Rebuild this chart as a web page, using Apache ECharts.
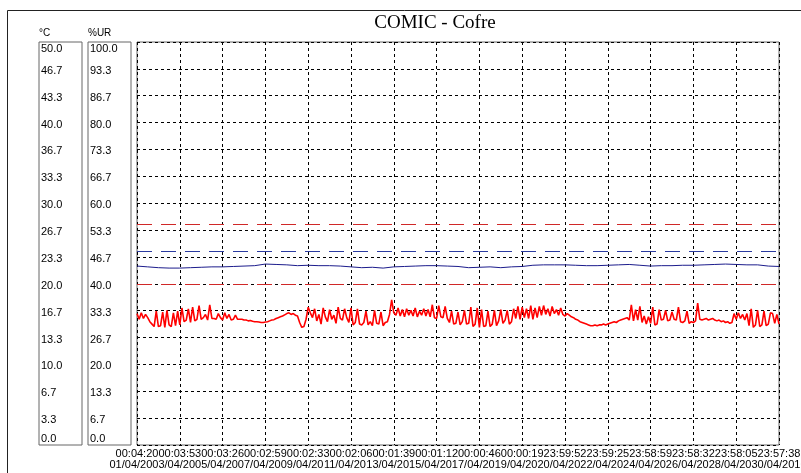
<!DOCTYPE html>
<html>
<head>
<meta charset="utf-8">
<script src="https://cdn.jsdelivr.net/npm/echarts@6/dist/echarts.min.js"></script>
<style>
    html, body { margin: 0; padding: 0; background: #fff; }
    #chart { width: 801px; height: 473px; }
</style>
</head>
<body>
<div id="chart"></div>
<script>
// x axis labels (hour + date of each division)
const timeLabels = ['00:04:20', '00:03:53', '00:03:26', '00:02:59', '00:02:33', '00:02:06', '00:01:39', '00:01:12',
    '00:00:46', '00:00:19', '23:59:52', '23:59:25', '23:58:59', '23:58:32', '23:58:05', '23:57:38']
const dateLabels = ['01/04/2010', '03/04/2010', '05/04/2010', '07/04/2010', '09/04/2010', '11/04/2010', '13/04/2010', '15/04/2010',
    '17/04/2010', '19/04/2010', '20/04/2010', '22/04/2010', '24/04/2010', '26/04/2010', '28/04/2010', '30/04/2010']

// y axis tick labels
const tempTicks = ['0.0', '3.3', '6.7', '10.0', '13.3', '16.7', '20.0', '23.3', '26.7', '30.0', '33.3', '36.7', '40.0', '43.3', '46.7', '50.0']
const humTicks = ['0.0', '6.7', '13.3', '20.0', '26.7', '33.3', '40.0', '46.7', '53.3', '60.0', '66.7', '73.3', '80.0', '86.7', '93.3', '100.0']

// temperature (°C) samples over the month
const tempValues = [
    16.3, 15.6, 16.4, 15.7, 16.2,
    15.8, 15.3, 15.0, 14.7,
    16.6, 14.7, 14.8, 16.5, 14.6, 16.7, 14.9, 14.7, 16.4, 14.8, 16.6, 14.9,
    17.0, 15.3, 15.5, 16.9, 15.2, 17.1, 15.4, 15.6,
    17.3, 15.6, 15.8, 16.2, 15.5, 17.4, 15.7,
    15.7, 15.6, 16.3, 15.8, 15.5, 16.4, 15.7,
    16.2, 15.5, 15.6, 16.1, 15.6,
    15.6, 15.6, 15.5, 15.5, 15.4, 15.45, 15.35, 15.3, 15.3, 15.25, 15.2, 15.2,
    15.25, 15.3, 15.4, 15.5, 15.55, 15.7, 15.8, 15.9, 16.0, 16.15, 16.3,
    16.4, 16.2, 16.3, 16.1, 16.0,
    15.2, 14.6, 14.7,
    15.6, 17.1, 16.4,
    15.8, 16.9, 15.4, 16.2, 15.0, 17.0, 15.9, 15.3, 16.8, 15.6, 16.1, 15.1, 17.1, 15.7, 15.5, 16.9, 15.8, 15.2,
    17.0, 14.9, 15.2, 16.9, 15.0, 14.9,
    15.2, 16.6, 14.9, 15.3, 14.8, 16.7, 15.1, 15.0, 16.5, 14.8, 15.2, 15.3,
    16.2, 18.0, 16.4, 16.1,
    17.0, 16.0, 16.8, 15.9, 16.9, 16.1, 16.7, 16.0, 17.0, 15.9, 16.6, 16.1, 16.9, 16.0, 16.8, 15.9,
    17.4, 15.8, 15.7, 17.3, 15.9, 15.8, 17.2, 15.7,
    15.2, 16.6, 15.0, 15.1, 16.5, 14.9, 15.3, 16.7, 15.0, 15.1,
    17.1, 14.7, 15.0, 17.0, 14.6,
    16.8, 14.7, 14.8, 16.6, 14.7, 15.0, 16.7, 14.8,
    15.4, 16.8, 15.1, 15.5, 16.7, 15.0, 15.3, 16.9,
    15.7, 17.2, 15.6, 17.1, 15.8, 16.9, 15.7, 17.3, 15.6, 17.0, 15.8, 17.2,
    16.1, 17.3, 16.2, 16.9, 16.0, 17.2, 16.3, 16.8, 16.1, 17.0,
    16.2, 16.0, 16.3, 16.1,
    15.9, 15.8, 15.6, 15.5, 15.3, 15.2, 15.1, 15.0,
    14.9, 14.8, 14.8, 14.9, 14.8, 14.9, 14.9, 15.0, 14.9,
    15.0, 15.1, 15.2, 15.3, 15.2, 15.4, 15.5, 15.6, 15.7, 15.8,
    15.5, 17.4, 15.4, 16.8, 15.5, 17.2,
    15.2, 16.0, 15.0, 15.9, 15.1,
    17.1, 14.9, 15.0, 16.8,
    15.5, 15.6, 16.7, 15.4, 15.5, 16.5, 15.6, 15.5,
    17.1, 15.3, 15.2, 15.4, 16.6, 15.1, 15.3, 15.2,
    15.4, 17.6, 15.6, 15.5,
    15.6, 15.7, 15.5, 15.6, 15.7, 15.5, 15.4, 15.5, 15.3, 15.4, 15.2, 15.3, 15.1, 15.2,
    16.3, 15.6, 16.4, 15.7, 16.2, 15.5, 16.3,
    14.8, 16.9, 14.6, 14.9, 16.7, 14.7,
    14.9, 16.6, 14.8, 15.0, 16.4, 16.3, 15.1, 16.2, 15.0
]

// relative humidity (%UR) samples over the month
const humValues = [
    44.4, 44.2, 44.0, 43.9, 43.9, 44.0, 44.1, 44.2, 44.2, 44.3,
    44.4, 44.5, 44.9, 44.8, 44.7, 44.5, 44.6, 44.5, 44.5, 44.4,
    44.2, 44.0, 44.1, 43.9, 44.2, 44.3, 44.4, 44.5, 44.5, 44.4,
    44.3, 44.0, 44.1, 44.2, 44.0, 44.2, 44.3, 44.6, 44.7, 44.7,
    44.7, 44.6, 44.5, 44.5, 44.6, 44.7, 44.8, 44.6, 44.4, 44.5,
    44.5, 44.6, 44.6, 44.7, 44.8, 44.9, 44.8, 44.7, 44.7, 44.4, 44.3
]

// alarm limits
const tempLimits = [27.4, 20.0]
const humLimits = [48.0]

const font = 'Liberation Sans, Arial, sans-serif'

// spread samples over the 15 divisions of the time axis
function toPoints(values) {
    let pts = []
    for (let i = 0; i < values.length; i++) {
        pts.push([i * 15 / (values.length - 1), values[i]])
    }
    return pts
}

function tickRich(list) {
    return function (value, index) {
        let txt = list[index]
        if (index === 0) return '{bot|' + txt + '}'
        if (index === list.length - 1) return '{top|' + txt + '}'
        return '{n|' + txt + '}'
    }
}

const tickStyles = {
    n: { fontSize: 11, fontFamily: font, color: '#000', padding: [4, 0, 0, 0] },
    top: { fontSize: 11, fontFamily: font, color: '#000', padding: [13, 0, 0, 0] },
    bot: { fontSize: 11, fontFamily: font, color: '#000', padding: [0, 0, 13, 0] }
}

let myChart = echarts.init(document.getElementById('chart'))

let option = {
    animation: false,
    backgroundColor: '#fff',
    title: {
        text: 'COMIC - Cofre',
        left: 435,
        top: 14,
        textAlign: 'center',
        padding: 0,
        textStyle: {
            fontFamily: 'Liberation Serif, Times New Roman, serif',
            fontWeight: 'normal',
            fontSize: 19,
            color: '#000'
        }
    },
    graphic: [{
        type: 'rect',
        shape: { x: 7.5, y: 10.5, width: 900, height: 600 },
        style: { fill: 'none', stroke: '#222', lineWidth: 1 },
        silent: true
    }],
    grid: [
        { left: 137, top: 42, right: 22, bottom: 28, outerBoundsMode: 'none', containLabel: false, show: true, borderColor: '#666', borderWidth: 1 },
        { left: 39, top: 42, width: 43, bottom: 28, outerBoundsMode: 'none', containLabel: false, show: true, borderColor: '#666', borderWidth: 1 },
        { left: 88, top: 42, width: 43, bottom: 28, outerBoundsMode: 'none', containLabel: false, show: true, borderColor: '#666', borderWidth: 1 }
    ],
    xAxis: [
        {
            // time axis carrying the samples and the vertical grid
            type: 'value',
            gridIndex: 0,
            min: 0,
            max: 15,
            interval: 1,
            axisLine: { show: false },
            axisTick: { show: false },
            axisLabel: { show: false },
            splitLine: { show: true, lineStyle: { color: '#000', width: 1, type: [3, 3] } }
        },
        { type: 'value', gridIndex: 1, show: false, min: 0, max: 1 },
        { type: 'value', gridIndex: 2, show: false, min: 0, max: 1 },
        {
            // label row: one label per division, drawn over each other like the original
            type: 'category',
            gridIndex: 0,
            position: 'bottom',
            boundaryGap: false,
            data: timeLabels,
            axisLine: { show: false },
            axisTick: { show: false },
            splitLine: { show: false },
            axisLabel: {
                interval: 0,
                margin: 3,
                hideOverlap: false,
                formatter: function (val, idx) {
                    return '{t|' + val + '}\n{d|' + dateLabels[idx] + '}'
                },
                rich: {
                    t: { fontSize: 11, fontFamily: font, color: '#000', lineHeight: 11, backgroundColor: '#fff' },
                    d: { fontSize: 11, fontFamily: font, color: '#000', lineHeight: 11, backgroundColor: '#fff' }
                }
            }
        }
    ],
    yAxis: [
        {
            type: 'value',
            gridIndex: 0,
            min: 0,
            max: 50,
            interval: 50 / 15,
            axisLine: { show: false },
            axisTick: { show: false },
            axisLabel: { show: false },
            splitLine: { show: true, lineStyle: { color: '#000', width: 1, type: [3, 3] } }
        },
        {
            type: 'value',
            gridIndex: 0,
            min: 0,
            max: 100,
            show: false,
            splitLine: { show: false }
        },
        {
            type: 'value',
            gridIndex: 1,
            min: 0,
            max: 50,
            interval: 50 / 15,
            name: '°C',
            nameLocation: 'end',
            nameGap: 4,
            nameTextStyle: { fontSize: 10, fontFamily: font, color: '#000', align: 'left', verticalAlign: 'bottom' },
            axisLine: { show: false },
            axisTick: { show: false },
            splitLine: { show: false },
            axisLabel: { inside: true, margin: 2, showMinLabel: true, showMaxLabel: true, formatter: tickRich(tempTicks), rich: tickStyles }
        },
        {
            type: 'value',
            gridIndex: 2,
            min: 0,
            max: 100,
            interval: 100 / 15,
            name: '%UR',
            nameLocation: 'end',
            nameGap: 4,
            nameTextStyle: { fontSize: 10, fontFamily: font, color: '#000', align: 'left', verticalAlign: 'bottom' },
            axisLine: { show: false },
            axisTick: { show: false },
            splitLine: { show: false },
            axisLabel: { inside: true, margin: 2, showMinLabel: true, showMaxLabel: true, formatter: tickRich(humTicks), rich: tickStyles }
        }
    ],
    series: [
        {
            name: 'Temperatura',
            type: 'line',
            xAxisIndex: 0,
            yAxisIndex: 0,
            showSymbol: false,
            symbol: 'none',
            z: 3,
            lineStyle: { color: '#f00', width: 1.6 },
            data: toPoints(tempValues),
            markLine: {
                silent: true,
                symbol: 'none',
                label: { show: false },
                lineStyle: { color: '#d02828', width: 1, type: [15, 9] },
                data: tempLimits.map(v => ({ yAxis: v }))
            }
        },
        {
            name: 'Umidade',
            type: 'line',
            xAxisIndex: 0,
            yAxisIndex: 1,
            showSymbol: false,
            symbol: 'none',
            z: 3,
            lineStyle: { color: '#1c1c8c', width: 1 },
            data: toPoints(humValues),
            markLine: {
                silent: true,
                symbol: 'none',
                label: { show: false },
                lineStyle: { color: '#2a3aa0', width: 1, type: [15, 9] },
                data: humLimits.map(v => ({ yAxis: v }))
            }
        }
    ]
}

myChart.setOption(option)
</script>
</body>
</html>
